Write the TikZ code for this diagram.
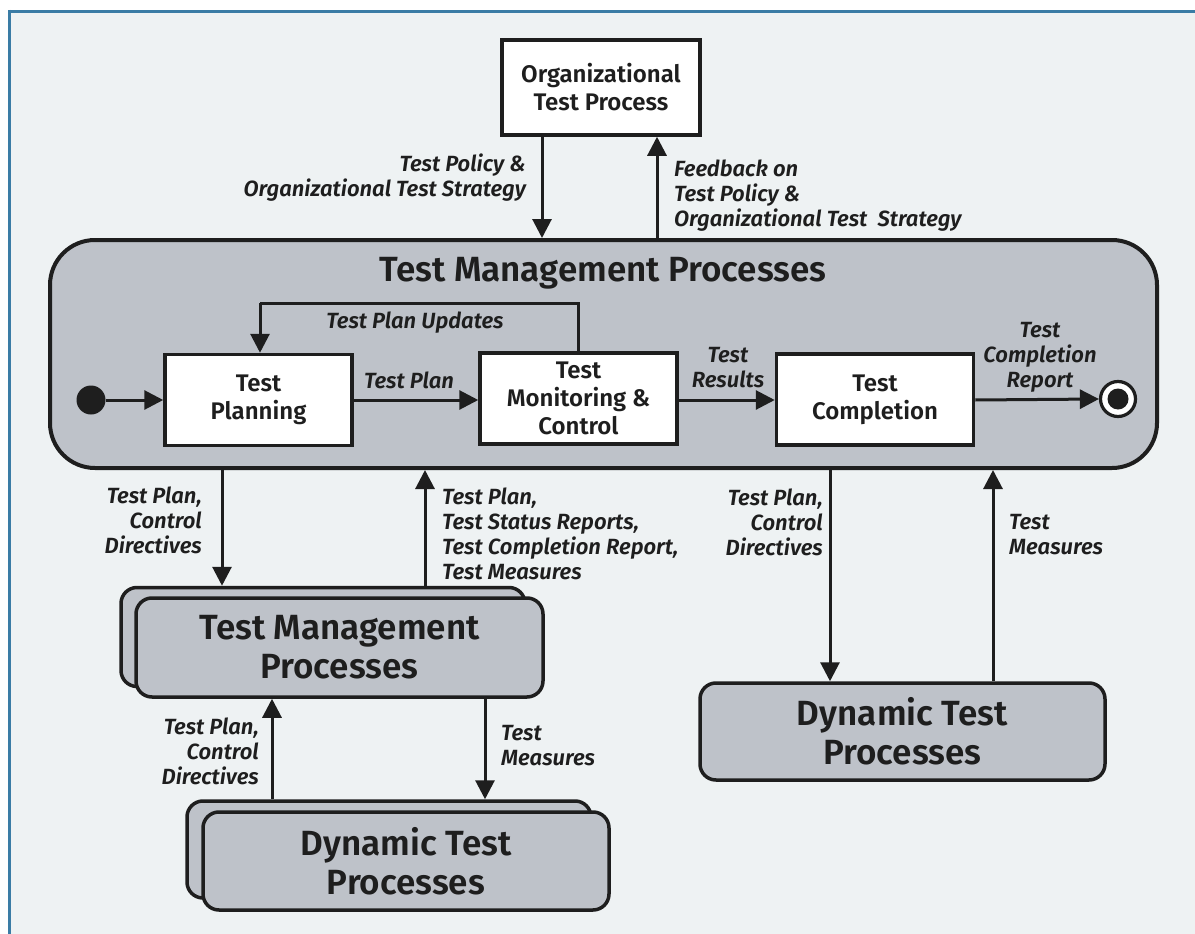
\documentclass[tikz,border=0pt]{standalone}
\usepackage{fontspec}
\setmainfont{Fira Sans}[BoldFont={Fira Sans SemiBold}, BoldItalicFont={Fira Sans SemiBold Italic}]
\usetikzlibrary{arrows.meta}
\definecolor{bgc}{RGB}{238,242,243}
\definecolor{framec}{RGB}{58,124,165}
\definecolor{boxg}{RGB}{190,194,201}
\definecolor{ink}{RGB}{30,30,30}
\tikzset{
  wbox/.style={draw=ink, line width=3.5pt, fill=white, font=\fontsize{24}{28}\selectfont\bfseries, align=center, text=ink},
  gbox/.style={draw=ink, line width=3.5pt, fill=boxg, rounded corners=16pt, font=\fontsize{35}{39}\selectfont\bfseries, align=center, text=ink},
  lbl/.style={font=\fontsize{22}{25}\selectfont\itshape\bfseries, text=ink, inner sep=0pt},
  arr/.style={draw=ink, line width=3pt, -{Triangle[length=19pt,width=19pt]}},
  ln/.style={draw=ink, line width=3pt}
}
\begin{document}
\begin{tikzpicture}[x=1pt,y=-1pt]
\useasboundingbox (0,0) rectangle (1195,934);
% frame
\fill[white] (0,0) rectangle (1195,934);
\fill[bgc] (10,12) rectangle (1195,934);
\draw[framec, line width=3pt] (8,11.5) -- (1195,11.5);
\draw[framec, line width=3pt] (9.5,10) -- (9.5,934);

% top box
\node[wbox, minimum width=198pt, minimum height=95pt] (org) at (601,87.5) {Organizational\\Test Process};

% main box
\node[draw=ink, line width=4pt, fill=boxg, rounded corners=45pt, minimum width=1107pt, minimum height=228pt] (main) at (603.5,354) {};
\node[font=\fontsize{35}{38}\selectfont\bfseries, text=ink] (title) at (603,273) {Test Management Processes};

\node[wbox, minimum width=187pt, minimum height=91pt] (plan) at (258.5,400) {Test\\Planning};
\node[wbox, minimum width=197pt, minimum height=91pt] (mon) at (578.5,398.5) {Test\\Monitoring \&\\Control};
\node[wbox, minimum width=197pt, minimum height=91pt] (comp) at (875,399.5) {Test\\Completion};

\node[circle, fill=ink, minimum size=29pt, inner sep=0pt] (start) at (91,400) {};
\node[circle, draw=ink, line width=3.2pt, fill=white, minimum size=35pt, inner sep=0pt] (endc) at (1118,399) {};
\node[circle, fill=ink, minimum size=21pt, inner sep=0pt] (endd) at (1118,399) {};

% stacked TMP
\node[gbox, minimum width=404pt, minimum height=99pt] (tmpback) at (323,637) {};
\node[gbox, minimum width=407pt, minimum height=99pt] (tmp) at (339.5,647.5) {Test Management\\Processes};

% stacked DTP
\node[gbox, minimum width=404pt, minimum height=97pt] (dtpback) at (389,849.5) {};
\node[gbox, minimum width=406pt, minimum height=98pt] (dtpl) at (406,861) {Dynamic Test\\Processes};

% single DTP
\node[gbox, minimum width=405pt, minimum height=97pt] (dtpr) at (902.5,731.5) {Dynamic Test\\Processes};

% arrows top
\draw[arr] (org.south -| 542,0) -- (main.north -| 542,0);
\draw[arr] (main.north -| 657,0) -- (org.south -| 657,0);
\node[lbl, align=right, anchor=east] (l1) at (526,178) {Test Policy \&\\Organizational Test Strategy};
\node[lbl, align=left, anchor=west] (l2) at (674,196) {Feedback on\\Test Policy \&\\Organizational Test~~Strategy};

% inner flow
\draw[arr] (start) -- (plan.west |- start);
\draw[arr] (plan.east |- 0,400) -- (mon.west |- 0,400);
\draw[arr] (mon.east |- 0,400) -- (comp.west |- 0,400);
\draw[arr] (comp.east |- 0,400) -- (endc.west);
\draw[ln] (mon.north) -- (mon.north |- 0,303) -- (260,303);
\draw[arr] (260,303) -- (plan.north -| 260,0);
\node[lbl] (lupd) at (415,323) {Test Plan Updates};
\node[lbl] (lplan) at (409,380) {Test Plan};
\node[lbl, align=center] (lres) at (728,368) {Test\\Results};
\node[lbl, align=center] (lrep) at (1040,357) {Test\\Completion\\Report};

% below main, left
\draw[arr] (main.south -| 222,0) -- (tmpback.north -| 222,0);
\draw[arr] (tmpback.north -| 425,0) -- (main.south -| 425,0);
\node[lbl, align=right, anchor=east] (l3) at (202,520) {Test Plan,\\Control\\Directives};
\node[lbl, align=left, anchor=west] (l4) at (442,534) {Test Plan,\\Test Status Reports,\\Test Completion Report,\\Test Measures};

% below main, right
\draw[arr] (main.south -| 830,0) -- (dtpr.north -| 830,0);
\draw[arr] (dtpr.north -| 993,0) -- (main.south -| 993,0);
\node[lbl, align=right, anchor=east] (l5) at (823,522) {Test Plan,\\Control\\Directives};
\node[lbl, align=left, anchor=west] (l6) at (1009,535) {Test\\Measures};

% TMP to DTP
\draw[arr] (dtpback.north -| 272,0) -- (tmp.south -| 272,0);
\draw[arr] (tmp.south -| 485,0) -- (dtpback.north -| 485,0);
\node[lbl, align=right, anchor=east] (l7) at (259,751) {Test Plan,\\Control\\Directives};
\node[lbl, align=left, anchor=west] (l8) at (501,746) {Test\\Measures};
\end{tikzpicture}
\end{document}
